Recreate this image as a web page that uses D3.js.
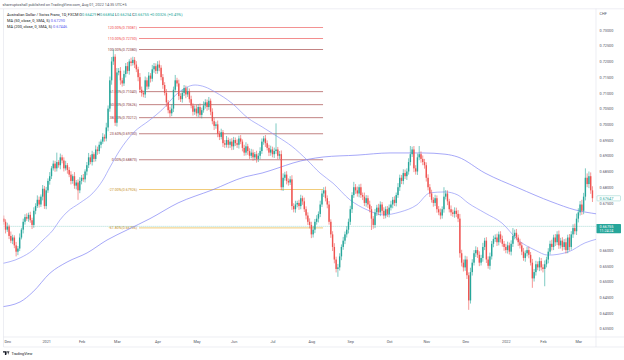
<!DOCTYPE html>
<html>
<head>
<meta charset="utf-8">
<script src="https://cdnjs.cloudflare.com/ajax/libs/d3/7.8.5/d3.min.js"></script>
<style>
body { margin: 0; background: #fff; }
svg { display: block; font-family: Roboto, 'Liberation Sans', sans-serif; }
</style>
</head>
<body>
<svg id="chart" width="624" height="360"></svg>
<script>
// ---- data (prices in pips, 1 pip = 0.0001) ----
var closes = [
  6690, 6665,                                                                                  // Nov 2020
  6675, 6645, 6630, 6640, 6615, 6595, 6605, 6640, 6665, 6690, 6705, 6700, 6712, 6695, 6680, 6725, 6740, 6760, 6745, 6770, 6795, 6740, // Dec
  6790, 6820, 6835, 6860, 6875, 6860, 6880, 6870, 6895, 6885, 6860, 6870, 6855, 6840, 6820, 6835, 6805, 6815, 6790, 6820, // Jan 2021
  6830, 6825, 6850, 6870, 6895, 6880, 6905, 6890, 6920, 6915, 6935, 6945, 6960, 6955, 6990, 7050, 7140, 7200, 7215, 7005, // Feb
  7165, 7170, 7140, 7130, 7160, 7185, 7170, 7200, 7195, 7205, 7190, 7175, 7150, 7110, 7100, 7095, 7140, 7120, 7155, 7145, 7175, 7185, 7170, // Mar
  7190, 7180, 7150, 7125, 7100, 7070, 7045, 7035, 7050, 7110, 7140, 7130, 7090, 7080, 7100, 7115, 7095, 7105, 7080, 7060, 7040, 7050, // Apr
  7035, 7055, 7030, 7045, 7060, 7070, 7055, 7075, 7040, 7010, 6995, 7000, 6970, 6960, 6975, 6940, 6935, 6950, 6935, 6945, 6930, // May
  6950, 6940, 6935, 6955, 6945, 6925, 6910, 6930, 6915, 6900, 6910, 6895, 6905, 6890, 6900, 6915, 6945, 6955, 6940, 6925, 6910, 6920, // Jun
  6905, 6915, 6920, 6900, 6905, 6800, 6830, 6840, 6820, 6815, 6825, 6740, 6730, 6745, 6750, 6740, 6765, 6755, 6730, 6710, 6690, 6680, // Jul
  6650, 6665, 6690, 6700, 6715, 6745, 6780, 6790, 6765, 6745, 6690, 6650, 6610, 6570, 6540, 6545, 6580, 6610, 6630, 6650, 6665, 6690, // Aug
  6730, 6775, 6800, 6790, 6780, 6800, 6775, 6770, 6750, 6765, 6745, 6730, 6700, 6680, 6720, 6735, 6720, 6745, 6725, 6710, 6730, 6715, // Sep
  6735, 6745, 6760, 6750, 6775, 6800, 6830, 6820, 6845, 6835, 6850, 6880, 6905, 6920, 6860, 6850, 6895, 6905, 6890, 6880, 6870, // Oct
  6830, 6800, 6780, 6760, 6750, 6765, 6730, 6720, 6710, 6730, 6770, 6780, 6755, 6730, 6720, 6715, 6725, 6715, 6700, 6590, 6560, 6545, // Nov
  6570, 6520, 6440, 6530, 6560, 6590, 6600, 6585, 6560, 6575, 6610, 6630, 6570, 6550, 6580, 6620, 6635, 6640, 6625, 6650, 6635, 6620, 6610, // Dec
  6600, 6615, 6595, 6620, 6645, 6655, 6640, 6625, 6615, 6595, 6575, 6590, 6600, 6585, 6560, 6510, 6530, 6555, 6545, 6565, 6545, // Jan 2022
  6540, 6555, 6570, 6595, 6620, 6610, 6640, 6625, 6650, 6615, 6630, 6610, 6625, 6600, 6640, 6610, 6650, 6670, 6660, 6700, // Feb
  6720, 6745, 6725, 6770, 6830, 6810, 6835, 6790, 6765                                       // Mar
];
var firstOpen = 6700;
// wick lengths above / below the body, pips
var upWick = [
  10, 8,
  12, 6, 14, 9, 7, 11, 8, 13, 6, 10, 9, 12, 7, 10, 8, 11, 9, 14, 10, 7, 12, 9,
  11, 8, 13, 7, 10, 9, 30, 6, 12, 8, 10, 14, 7, 9, 11, 6, 13, 8, 10, 12,
  9, 12, 7, 10, 14, 8, 11, 6, 13, 9, 10, 7, 12, 8, 15, 10, 12, 14, 23, 8,
  14, 9, 12, 8, 11, 10, 13, 7, 12, 10, 9, 11, 8, 13, 10, 7, 12, 9, 11, 8, 14, 10, 9,
  11, 13, 8, 10, 9, 12, 7, 11, 14, 10, 17, 8, 12, 9, 11, 10, 8, 13, 9, 11, 7, 10,
  12, 9, 11, 8, 13, 10, 9, 12, 7, 11, 10, 8, 12, 9, 11, 7, 10, 13, 8, 9, 11,
  10, 8, 12, 9, 11, 7, 10, 13, 8, 9, 12, 10, 7, 11, 9, 12, 10, 8, 11, 9, 10, 12,
  9, 11, 83, 8, 10, 12, 14, 9, 11, 8, 10, 13, 9, 12, 7, 10, 11, 8, 12, 9, 10, 11,
  10, 12, 9, 11, 8, 12, 10, 10, 12, 9, 11, 8, 10, 12, 9, 11, 10, 8, 12, 9, 11, 10,
  11, 9, 17, 10, 12, 9, 11, 8, 13, 10, 9, 12, 10, 8, 11, 9, 12, 10, 8, 11, 9, 10,
  10, 12, 9, 11, 8, 13, 10, 9, 12, 11, 10, 12, 26, 9, 11, 10, 12, 26, 9, 11, 10,
  9, 11, 10, 12, 8, 11, 9, 10, 12, 9, 30, 11, 10, 8, 12, 9, 11, 10, 12, 15, 11, 10,
  12, 10, 9, 14, 11, 10, 12, 9, 11, 10, 13, 9, 11, 10, 12, 9, 11, 10, 12, 9, 10, 11, 9,
  10, 12, 9, 11, 25, 10, 12, 9, 11, 10, 12, 9, 10, 11, 9, 12, 10, 11, 9, 12, 10,
  10, 12, 9, 11, 10, 13, 9, 11, 10, 12, 9, 11, 10, 12, 9, 11, 10, 12, 14, 16,
  13, 11, 15, 12, 30, 14, 15, 12, 13
];
var downWick = [
  9, 12,
  7, 10, 8, 11, 9, 15, 11, 8, 6, 12, 9, 7, 10, 8, 13, 9, 11, 6, 10, 8, 12, 9,
  10, 8, 12, 9, 7, 11, 10, 8, 13, 9, 10, 7, 12, 8, 11, 9, 10, 12, 30, 9,
  11, 8, 10, 12, 9, 7, 11, 10, 8, 12, 9, 11, 7, 10, 9, 12, 10, 14, 11, 10,
  12, 9, 14, 10, 8, 11, 9, 12, 10, 8, 11, 9, 13, 10, 12, 9, 11, 10, 8, 12, 9, 11, 10,
  9, 11, 10, 12, 8, 14, 10, 12, 9, 11, 8, 10, 13, 9, 11, 10, 12, 8, 11, 9, 12, 10,
  10, 12, 9, 11, 8, 10, 12, 9, 11, 10, 13, 9, 11, 10, 8, 12, 10, 9, 11, 10, 12,
  11, 9, 10, 12, 8, 11, 10, 9, 12, 10, 8, 11, 9, 12, 10, 11, 9, 10, 12, 8, 11, 10,
  10, 12, 9, 11, 10, 10, 12, 9, 11, 10, 8, 12, 10, 11, 9, 12, 10, 11, 9, 12, 10, 11,
  12, 10, 11, 9, 12, 10, 8, 11, 10, 12, 9, 11, 13, 12, 11, 25, 10, 12, 9, 11, 10, 12,
  10, 12, 9, 11, 10, 12, 9, 11, 10, 12, 11, 10, 36, 12, 10, 11, 9, 12, 10, 11, 9, 10,
  11, 9, 12, 10, 11, 9, 12, 10, 11, 9, 12, 10, 11, 9, 12, 10, 11, 9, 12, 10, 11,
  12, 10, 11, 9, 12, 10, 11, 9, 12, 10, 11, 9, 12, 10, 11, 9, 12, 10, 11, 14, 12, 13,
  11, 12, 30, 10, 11, 9, 12, 10, 11, 9, 12, 10, 11, 9, 12, 10, 11, 9, 12, 10, 11, 9, 12,
  10, 11, 9, 12, 10, 11, 9, 12, 10, 11, 9, 12, 10, 11, 9, 30, 10, 11, 9, 12, 10,
  11, 55, 10, 12, 9, 11, 10, 12, 9, 11, 10, 12, 9, 11, 10, 12, 9, 11, 10, 12,
  12, 10, 13, 11, 12, 10, 13, 11, 12
];

// moving averages (bar index, price)
var ma50Idx = [-2.1, 9.2, 16.5, 22.2, 27.9, 31.8, 35.8, 43.1, 50.5, 56.1, 60.1, 65.7, 73.1, 82.7, 89.5, 98.6, 108.2, 113.8, 119.5, 129.1, 138.1, 146.1, 155.1, 163.0, 171.5, 178.9, 186.2, 195.8, 205.5, 214.5, 224.1, 233.7, 241.1, 249.6, 256.9, 262.6, 272.2, 281.8, 290.9, 300.5, 307.8, 319.2, 328.8, 335.5];
var ma50Val = [0.6556, 0.6575, 0.6600, 0.6632, 0.6664, 0.6696, 0.6721, 0.6750, 0.6782, 0.6823, 0.6864, 0.6918, 0.6972, 0.7014, 0.7046, 0.7100, 0.7125, 0.7119, 0.7103, 0.7067, 0.7020, 0.6992, 0.6960, 0.6930, 0.6887, 0.6845, 0.6813, 0.6760, 0.6728, 0.6712, 0.6721, 0.6744, 0.6782, 0.6785, 0.6775, 0.6750, 0.6718, 0.6686, 0.6632, 0.6600, 0.6584, 0.6594, 0.6623, 0.6635];
var ma200Idx = [-2.1, 9.2, 16.5, 26.2, 35.8, 47.1, 58.4, 69.7, 82.7, 98.6, 117.8, 136.5, 146.1, 155.1, 163.6, 180.6, 199.8, 218.5, 237.1, 249.6, 256.9, 272.2, 290.9, 310.1, 323.1, 335.5];
var ma200Val = [0.6419, 0.6435, 0.6467, 0.6527, 0.6562, 0.6591, 0.6632, 0.6664, 0.6700, 0.6750, 0.6791, 0.6833, 0.6845, 0.6861, 0.6877, 0.6896, 0.6902, 0.6909, 0.6909, 0.6905, 0.6896, 0.6845, 0.6798, 0.6753, 0.6728, 0.6715];

// fibonacci extension drawn on the chart
var fibRatios = ["120.00%", "110.00%", "100.00%", "61.80%", "50.00%", "38.20%", "23.60%", "0.00%", "-27.00%", "-61.80%"];
var fibValues = [0.73081, 0.72730, 0.72380, 0.71040, 0.70626, 0.70212, 0.69700, 0.68873, 0.67926, 0.66706];
var fibFrom = 76.5, fibTo = 180.6;

// 0.665 and 0.670 sit under the price labels and are hidden on the original
var priceTicks = [0.635, 0.640, 0.645, 0.650, 0.655, 0.660, 0.675, 0.680, 0.685, 0.690, 0.695, 0.700, 0.705, 0.710, 0.715, 0.720, 0.725, 0.730];
var monthLabels = ["Dec", "2021", "Feb", "Mar", "Apr", "May", "Jun", "Jul", "Aug", "Sep", "Oct", "Nov", "Dec", "2022", "Feb", "Mar"];
var lastPrice = 0.66755, markPrice = 0.67647;

// ---- trading calendar ----
var holidays = ["2020-12-25", "2021-01-01"];
var days = [];
for (var d = new Date(Date.UTC(2020, 10, 27)); d <= new Date(Date.UTC(2022, 2, 11)); d.setUTCDate(d.getUTCDate() + 1)) {
  var wd = d.getUTCDay(), iso = d.toISOString().slice(0, 10);
  if (wd === 0 || wd === 6 || holidays.indexOf(iso) >= 0) continue;
  days.push(new Date(d));
}

var bars = closes.map(function (c, i) {
  var o = i === 0 ? firstOpen : closes[i - 1];
  return { i: i, o: o / 1e4, c: c / 1e4,
           h: (Math.max(o, c) + upWick[i]) / 1e4,
           l: (Math.min(o, c) - downWick[i]) / 1e4 };
});

var monthStarts = [];
days.forEach(function (dd, i) { if (i > 0 && dd.getUTCMonth() !== days[i - 1].getUTCMonth()) monthStarts.push(i); });

// ---- layout ----
var svg = d3.select("#chart");
var plot = { left: 3.5, right: 596, top: 9, bottom: 337 };
var x = d3.scaleLinear().domain([-2.13, 335.0]).range([0, 596]);
var y = d3.scaleLinear().domain([0.635, 0.730]).range([328.7, 30]);
var up = "#26a69a", down = "#ef5350";

svg.append("defs").append("clipPath").attr("id", "clip")
  .append("rect").attr("x", plot.left).attr("y", plot.top)
  .attr("width", plot.right - plot.left).attr("height", plot.bottom - plot.top);

// frame lines
var frame = "#e0e3eb";
svg.append("line").attr("x1", 0).attr("x2", 624).attr("y1", 8.8).attr("y2", 8.8).attr("stroke", frame).attr("stroke-width", 0.6);
svg.append("line").attr("x1", plot.left).attr("x2", plot.left).attr("y1", 8.8).attr("y2", 347).attr("stroke", frame).attr("stroke-width", 0.6);
svg.append("line").attr("x1", plot.right).attr("x2", plot.right).attr("y1", 8.8).attr("y2", 347).attr("stroke", frame).attr("stroke-width", 0.6);
svg.append("line").attr("x1", plot.left).attr("x2", 624).attr("y1", plot.bottom).attr("y2", plot.bottom).attr("stroke", frame).attr("stroke-width", 0.6);
svg.append("line").attr("x1", plot.left).attr("x2", 624).attr("y1", 347).attr("y2", 347).attr("stroke", frame).attr("stroke-width", 0.6);

var g = svg.append("g").attr("clip-path", "url(#clip)");

// fib levels
var fibColor = function (i) { return i < 2 ? "#f06b6b" : (i < 8 ? "#b05c5c" : "#ecbb4e"); };
var fibLabelColor = function (i) { return i < 2 ? "#f04848" : (i < 8 ? "#8a3c3c" : "#c89020"); };
fibValues.forEach(function (v, i) {
  g.append("line").attr("x1", x(fibFrom)).attr("x2", x(fibTo))
    .attr("y1", y(v)).attr("y2", y(v))
    .attr("stroke", fibColor(i)).attr("stroke-width", 0.9).attr("opacity", 0.85);
  g.append("text").attr("x", x(fibFrom) - 2).attr("y", y(v))
    .attr("dy", "0.35em").attr("text-anchor", "end")
    .style("font-size", "3.6px").style("fill", fibLabelColor(i))
    .text(fibRatios[i] + "(" + v.toFixed(5) + ")");
});

// last price dotted line
g.append("line").attr("x1", plot.left).attr("x2", plot.right)
  .attr("y1", y(lastPrice)).attr("y2", y(lastPrice))
  .attr("stroke", up).attr("stroke-width", 0.5).attr("stroke-dasharray", "0.8,1.2");

// moving averages
var maLine = d3.line().curve(d3.curveMonotoneX);
g.append("path").attr("d", maLine(ma200Idx.map(function (k, i) { return [x(k), y(ma200Val[i])]; })))
  .attr("fill", "none").attr("stroke", "#8083f5").attr("stroke-width", 0.7);
g.append("path").attr("d", maLine(ma50Idx.map(function (k, i) { return [x(k), y(ma50Val[i])]; })))
  .attr("fill", "none").attr("stroke", "#9196f8").attr("stroke-width", 0.7);

// candles
var cg = g.append("g");
cg.selectAll("line.wick").data(bars).enter().append("line").attr("class", "wick")
  .attr("x1", function (b) { return x(b.i); }).attr("x2", function (b) { return x(b.i); })
  .attr("y1", function (b) { return y(b.h); }).attr("y2", function (b) { return y(b.l); })
  .attr("stroke", function (b) { return b.c >= b.o ? up : down; }).attr("stroke-width", 0.6);
cg.selectAll("rect.body").data(bars).enter().append("rect").attr("class", "body")
  .attr("x", function (b) { return x(b.i) - 0.7; }).attr("width", 1.4)
  .attr("y", function (b) { return y(Math.max(b.o, b.c)); })
  .attr("height", function (b) { return Math.max(0.5, Math.abs(y(b.o) - y(b.c))); })
  .attr("fill", function (b) { return b.c >= b.o ? up : down; });

// price axis
var yAxis = svg.append("g").attr("transform", "translate(" + plot.right + ",0)")
  .call(d3.axisRight(y).tickValues(priceTicks).tickFormat(d3.format(".5f")).tickSize(0).tickPadding(3.5));
yAxis.select(".domain").remove();
yAxis.selectAll("text").style("font-size", "3.8px").style("fill", "#50535e").style("font-family", "Roboto, sans-serif");
svg.append("text").attr("x", 599.5).attr("y", 14).attr("dy", "0.35em").text("CHF")
  .style("font-size", "3.8px").style("fill", "#50535e");

// time axis
var xAxis = svg.append("g").attr("transform", "translate(0," + plot.bottom + ")")
  .call(d3.axisBottom(x).tickValues(monthStarts).tickFormat(function (d, i) { return monthLabels[i]; }).tickSize(0).tickPadding(3));
xAxis.select(".domain").remove();
xAxis.selectAll("text").style("font-size", "3.8px").style("fill", "#50535e").style("font-family", "Roboto, sans-serif");

// axis price labels
svg.append("rect").attr("x", 597).attr("y", y(markPrice) - 2.6).attr("width", 23.5).attr("height", 5.2)
  .attr("fill", "#fff").attr("stroke", "#8fd1c9").attr("stroke-width", 0.5).attr("rx", 0.6);
svg.append("text").attr("x", 599.5).attr("y", y(markPrice)).attr("dy", "0.35em").text(markPrice.toFixed(5))
  .style("font-size", "3.8px").style("fill", up);
svg.append("rect").attr("x", 596.5).attr("y", y(lastPrice) - 2.4).attr("width", 24.5).attr("height", 9.2)
  .attr("fill", up).attr("rx", 0.6);
svg.append("text").attr("x", 599.5).attr("y", y(lastPrice) + 0.3).attr("dy", "0.35em").text(lastPrice.toFixed(5))
  .style("font-size", "3.8px").style("fill", "#fff");
svg.append("text").attr("x", 599.5).attr("y", y(lastPrice) + 4.5).attr("dy", "0.35em").text("11:24:24")
  .style("font-size", "3.6px").style("fill", "#fff");

// header / legend
var txt = function (xx, yy, size) {
  return svg.append("text").attr("x", xx).attr("y", yy).attr("dy", "0.35em").style("font-size", size + "px").style("fill", "#131722");
};
txt(2.5, 4.4, 3.8).style("fill", "#50535e").text("shareuptoshall published on TradingView.com, Aug 01, 2022 14:35 UTC+5");
var leg = txt(7, 15, 3.9);
leg.append("tspan").text("Australian Dollar / Swiss Franc, 1D, FXCM  O");
leg.append("tspan").style("fill", up).text("0.66429");
leg.append("tspan").text(" H");
leg.append("tspan").style("fill", up).text("0.66854");
leg.append("tspan").text(" L");
leg.append("tspan").style("fill", up).text("0.66254");
leg.append("tspan").text(" C");
leg.append("tspan").style("fill", up).text("0.66755 +0.00326 (+0.49%)");
var m1 = txt(7, 21, 3.9);
m1.append("tspan").text("MA (50, close, 0, SMA, 5) ");
m1.append("tspan").style("fill", "#5a5cf0").text("0.67290");
var m2 = txt(7, 27, 3.9);
m2.append("tspan").text("MA (200, close, 0, SMA, 5) ");
m2.append("tspan").style("fill", "#5a5cf0").text("0.67446");

// TradingView mark
svg.append("path").attr("d", "M3,351.3 h3.2 v3.6 h-1.3 v-2.4 h-1.9 z M6.6,351.3 h1.3 l-1.3,3.6 z M8.2,351.3 h1.2 l-1.2,3.6 z")
  .attr("fill", "#131722");
txt(11.5, 353.2, 3.8).text("TradingView");
</script>
</body>
</html>
